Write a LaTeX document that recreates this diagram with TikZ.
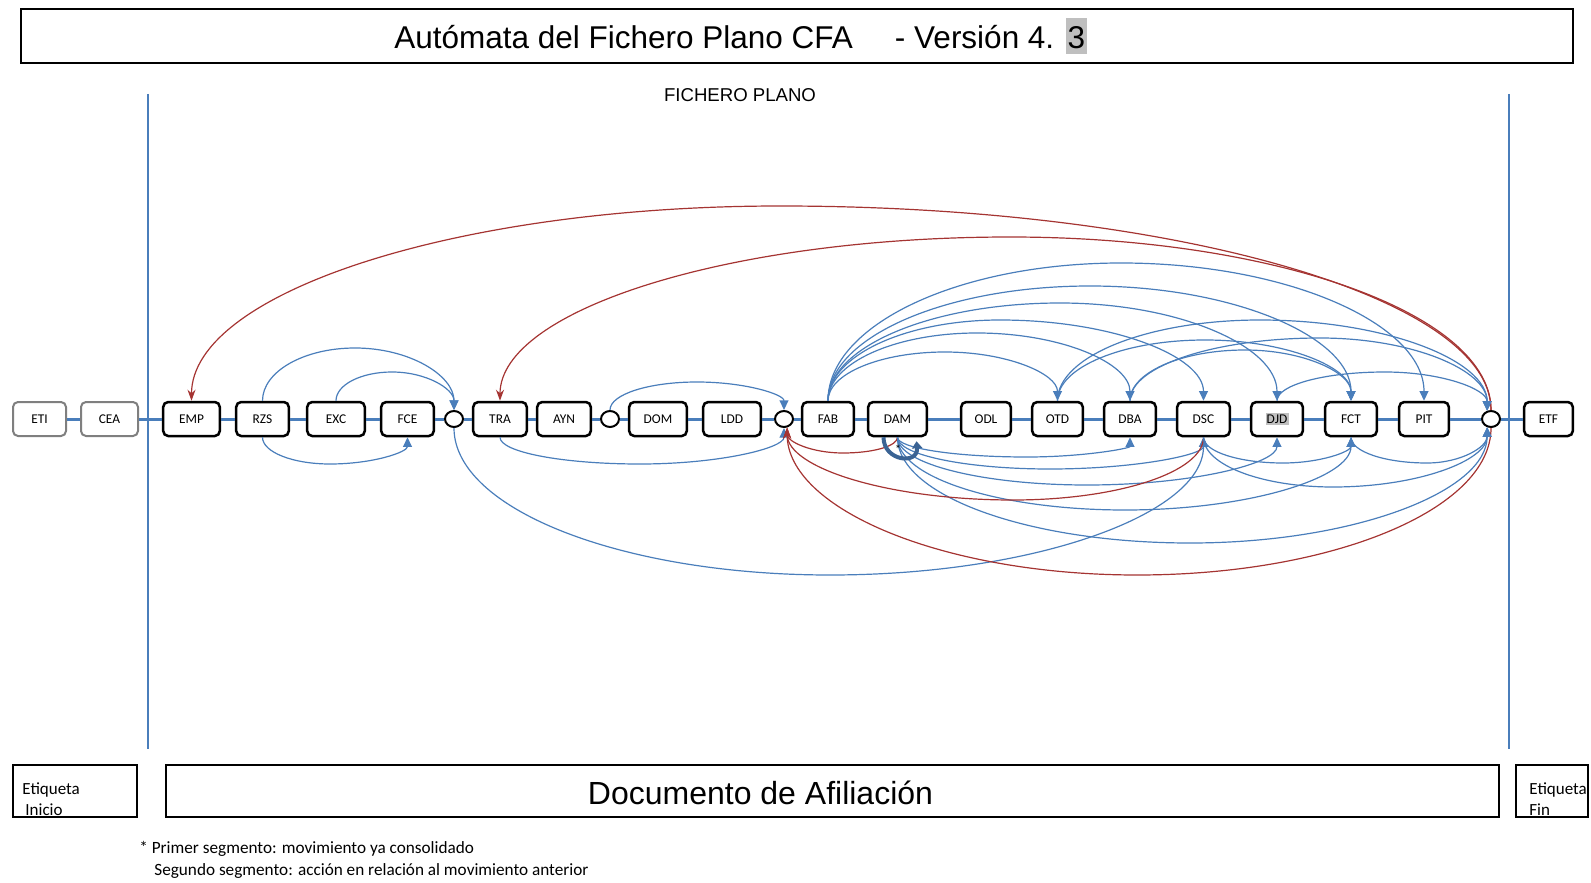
\documentclass[tikz,border=0pt]{standalone}
\usepackage{fontspec}
\setmainfont{Carlito}
\newfontfamily\arialf{Liberation Sans}
\usetikzlibrary{shapes.geometric,arrows.meta,calc}
\definecolor{vblue}{RGB}{74,126,187}
\definecolor{vred}{RGB}{165,52,50}
\definecolor{vloop}{RGB}{58,99,148}
\definecolor{vgray}{RGB}{127,127,127}
\definecolor{hlgray}{RGB}{191,191,191}
% arc: style, start, xa, ya, xpeak, ypeak, end, xb, yb
\newcommand\myarc[9]{\draw[#1] (#2) .. controls +(0,{0.552*(#6-#4)}) and +({0.552*(#3-#5)},0) .. (#5,#6) .. controls +({0.552*(#8-#5)},0) and +(0,{0.552*(#6-#9)}) .. (#7);}
\begin{document}
\begin{tikzpicture}[x=0.5pt,y=-0.5pt,
  box/.style={draw=black, line width=1.25pt, rounded corners=2.5pt, fill=white, minimum height=17pt, inner sep=0pt, font=\fontsize{6.7}{7.7}\selectfont},
  gbox/.style={box, draw=vgray, line width=1pt},
  circ/.style={ellipse, draw=black, line width=1pt, fill=white, minimum width=9pt, minimum height=8pt, inner sep=0pt},
  barc/.style={draw=vblue, line width=0.6pt, -{Triangle[length=4.8pt,width=4.4pt]}},
  rarc/.style={draw=vred, line width=0.6pt, -{Stealth[length=5.5pt,width=4pt]}},
  backbone/.style={draw=vblue, line width=1.5pt},
  vline/.style={draw=vblue, line width=1pt},
  framebox/.style={draw=black, line width=1pt, inner sep=0pt},
  lbl/.style={anchor=base west, inner sep=0pt}
]
\useasboundingbox (0,0) rectangle (1591,883);

% title
\node[framebox, minimum width=776pt, minimum height=27pt] (title) at (797,36) {};
\node[anchor=base, inner sep=0pt, font=\arialf\fontsize{15.75}{18}\selectfont] (ttext) at (740.5,49) {Autómata del Fichero Plano CFA\hspace{21pt}- Versión 4. {\setlength{\fboxsep}{0pt}\colorbox{hlgray}{\kern0.8pt 3\kern0.8pt\rule[-2.5pt]{0pt}{18pt}}}};
\node[anchor=base, inner sep=0pt, font=\arialf\fontsize{9.3}{11}\selectfont] (fp) at (740,101.5) {FICHERO PLANO};

% vertical separators
\draw[vline] (148,94) -- (148,749);
\draw[vline] (1509,94) -- (1509,749);

% states
\node[gbox, minimum width=26.5pt] (ETI) at (39.5,419) {ETI};
\node[gbox, minimum width=28.5pt] (CEA) at (109.5,419) {CEA};
\node[box, minimum width=28.3pt] (EMP) at (191.5,419) {EMP};
\node[box, minimum width=26.3pt] (RZS) at (262.5,419) {RZS};
\node[box, minimum width=28.8pt] (EXC) at (336,419) {EXC};
\node[box, minimum width=26.3pt] (FCE) at (407.5,419) {FCE};
\node[circ] (c1) at (454,419) {};
\node[box, minimum width=26.8pt] (TRA) at (500,419) {TRA};
\node[box, minimum width=26.8pt] (AYN) at (564,419) {AYN};
\node[circ] (c2) at (610,419) {};
\node[box, minimum width=28.8pt] (DOM) at (658,419) {DOM};
\node[box, minimum width=28.8pt] (LDD) at (732,419) {LDD};
\node[circ] (c3) at (784,419) {};
\node[box, minimum width=25.8pt] (FAB) at (828,419) {FAB};
\node[box, minimum width=29.3pt] (DAM) at (897.5,419) {DAM};
\node[box, minimum width=24.8pt] (ODL) at (986,419) {ODL};
\node[box, minimum width=25.3pt] (OTD) at (1057.5,419) {OTD};
\node[box, minimum width=25.8pt] (DBA) at (1130,419) {DBA};
\node[box, minimum width=26.3pt] (DSC) at (1203.5,419) {DSC};
\node[box, minimum width=25.8pt] (DJD) at (1277,419) {{\setlength{\fboxsep}{0.6pt}\colorbox{hlgray}{DJD}}};
\node[box, minimum width=25.8pt] (FCT) at (1351,419) {FCT};
\node[box, minimum width=24.8pt] (PIT) at (1424,419) {PIT};
\node[circ] (c4) at (1491,419) {};
\node[box, minimum width=24.3pt] (ETF) at (1548.5,419) {ETF};

% backbone
\draw[backbone] (ETI) -- (CEA) -- (EMP) -- (RZS) -- (EXC) -- (FCE) -- (c1) -- (TRA) -- (AYN) -- (c2) -- (DOM) -- (LDD) -- (c3) -- (FAB) -- (DAM) -- (ODL) -- (OTD) -- (DBA) -- (DSC) -- (DJD) -- (FCT) -- (PIT) -- (c4) -- (ETF);

% upper arcs
\myarc{rarc}{c4.north}{1491}{410.5}{780}{206}{EMP.north}{191.5}{401}
\myarc{rarc}{c4.north}{1491}{410.5}{1010}{237}{TRA.north}{500}{401}
\myarc{barc}{RZS.north}{262.5}{401}{355}{348}{c1.north}{454}{410.5}
\myarc{barc}{EXC.north}{336}{401}{392}{372}{c1.north}{454}{410.5}
\myarc{barc}{c2.north}{610}{410.5}{697}{382}{c3.north}{784}{410.5}
\myarc{barc}{FAB.north}{828}{401}{945}{352}{OTD.north}{1057.5}{401}
\myarc{barc}{FAB.north}{828}{401}{977}{333}{DBA.north}{1130}{401}
\myarc{barc}{FAB.north}{828}{401}{1000}{320}{DSC.north}{1203.5}{401}
\myarc{barc}{FAB.north}{828}{401}{1060}{303}{DJD.north}{1277}{401}
\myarc{barc}{FAB.north}{828}{401}{1090}{286}{FCT.north}{1351}{401}
\myarc{barc}{FAB.north}{828}{401}{1121}{263}{PIT.north}{1424}{401}
\myarc{barc}{OTD.north}{1057.5}{401}{1260}{320}{c4.115}{1488}{411}
\myarc{barc}{OTD.north}{1057.5}{401}{1205}{340}{FCT.north}{1351}{401}
\myarc{barc}{DBA.north}{1130}{401}{1245}{350}{FCT.north}{1351}{401}
\myarc{barc}{DBA.north}{1130}{401}{1320}{338}{c4.115}{1488}{411}
\myarc{barc}{DJD.north}{1277}{401}{1385}{372}{c4.115}{1488}{411}

% lower arcs
\myarc{barc}{RZS.south}{262.5}{437}{330}{464}{FCE.south}{407.5}{437}
\myarc{barc}{TRA.south}{500}{437}{640}{464}{c3.south}{784}{427.5}
\myarc{barc}{c1.south}{454}{427.5}{830}{575}{DSC.south}{1203.5}{437}
\myarc{rarc}{DAM.south}{897.5}{437}{843}{453}{c3.-70}{787}{427}
\myarc{barc}{DAM.south}{897.5}{437}{1027}{457}{DBA.south}{1130}{437}
\myarc{barc}{DAM.south}{897.5}{437}{1050}{469}{DSC.south}{1203.5}{437}
\myarc{barc}{DAM.south}{897.5}{437}{1087}{485}{DJD.south}{1277}{437}
\myarc{barc}{DAM.south}{897.5}{437}{1125}{510}{FCT.south}{1351}{437}
\myarc{barc}{DAM.south}{897.5}{437}{1190}{543}{c4.-115}{1488}{427}
\myarc{rarc}{DSC.south}{1203.5}{437}{1013}{500}{c3.-70}{787}{427}
\myarc{rarc}{c4.south}{1491}{427.5}{1137}{575}{c3.-70}{787}{427}
\myarc{barc}{DSC.south}{1203.5}{437}{1283}{463}{FCT.south}{1351}{437}
\myarc{barc}{DSC.south}{1203.5}{437}{1333}{487}{c4.-115}{1488}{427}
\myarc{barc}{FCT.south}{1351}{437}{1427}{463}{c4.-115}{1488}{427}

% DAM self loop
\draw[draw=vloop, line width=2pt, -{Triangle[length=3.5pt,width=5pt]}] ($(DAM.south)+(-14,0)$) .. controls +(0,24) and +(2,24) .. ($(DAM.south)+(19,4)$);
\node[inner sep=0pt, font=\fontsize{6}{6}\selectfont] (ast) at (898,449) {*};

% bottom boxes
\node[framebox, minimum width=62pt, minimum height=26pt] (bini) at (75,791) {};
\node[lbl, font=\fontsize{8.5}{10}\selectfont] (tini1) at (22,794) {Etiqueta};
\node[lbl, font=\fontsize{8.5}{10}\selectfont] (tini2) at (25,815) {Inicio};
\node[framebox, minimum width=666.5pt, minimum height=26pt] (doc) at (832.5,791) {};
\node[anchor=base, inner sep=0pt, font=\arialf\fontsize{16}{18}\selectfont] (doct) at (760.5,804) {Documento de Afiliación};
\node[framebox, minimum width=36pt, minimum height=26pt] (bfin) at (1552,791) {};
\node[lbl, font=\fontsize{8.5}{10}\selectfont] (tfin1) at (1529,794) {Etiqueta};
\node[lbl, font=\fontsize{8.5}{10}\selectfont] (tfin2) at (1529,815) {Fin};

% footnote
\node[lbl, font=\fontsize{8.6}{10}\selectfont] (fn1) at (139,853) {* Primer segmento: movimiento ya consolidado};
\node[lbl, font=\fontsize{8.6}{10}\selectfont] (fn2) at (154,875) {Segundo segmento: acción en relación al movimiento anterior};
\end{tikzpicture}
\end{document}
